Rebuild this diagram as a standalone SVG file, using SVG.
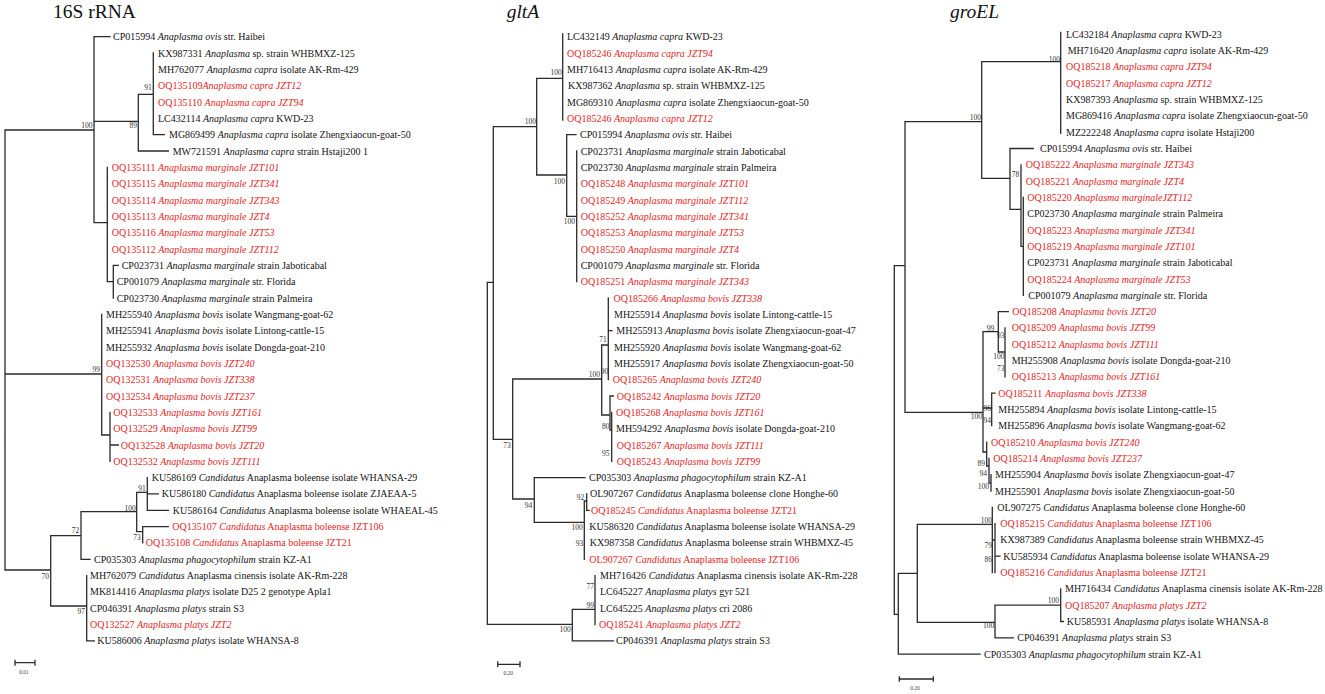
<svg xmlns="http://www.w3.org/2000/svg" width="1325" height="694" viewBox="0 0 1325 694">
<style>
.t{font-family:"Liberation Serif","Times New Roman",serif;font-size:10px;fill:#141414}
.r{fill:#e31e24}
.i{font-style:italic}
.b{font-family:"Liberation Serif","Times New Roman",serif;font-size:7.5px;fill:#333;text-anchor:end}
.bs{text-anchor:start}
.s{font-family:"Liberation Serif","Times New Roman",serif;font-size:5.5px;fill:#444;text-anchor:middle}
.h{font-family:"Liberation Serif","Times New Roman",serif;font-size:19.5px;fill:#111}
.e{fill:none;stroke:#2a2a2a;stroke-width:1.3;stroke-linecap:square}
</style>
<rect width="1325" height="694" fill="#fff"/>
<g id="titles">
<text class="h" x="53" y="18.3">16S rRNA</text>
<text class="h i" x="506.7" y="17.5">gltA</text>
<text class="h i" x="950" y="18.3">groEL</text>
</g>
<g id="connectors">
<path class="e" d="M5 130V570M5 130H94M5 374H101.7M5 570H50.7M94 36.7V222.7M94 36.7H110M94 121.3H138.3M94 222.7H107.3M138.3 94.3V151M138.3 94.3H153.3M138.3 151H168.3M153.3 53V134.7M153.3 134.7H164.3M107.3 167.3V281.7M107.3 281.7H113.3M113.3 265.3V298M113.3 265.3H118.3M101.7 314.3V435M101.7 435H110M110 412.3V461.3M110 445H118.3M50.7 535.7V606M50.7 535.7H81M50.7 606H86.7M81 511.7V559.3M81 559.3H90M81 511.7H136.7M136.7 492.3V531.7M136.7 492.3H147.3M136.7 531.7H142.7M147.3 477.6V510.3M147.3 493.9H158.3M147.3 510.3H168.3M142.7 526.6V542.9M142.7 526.6H168.3M86.7 575.6V640.9M86.7 640.9H94.3"/>
<path class="e" d="M487.3 282.3V624.3M487.3 282.3H493.3M487.3 624.3H572.3M493.3 126.7V439.3M493.3 126.7H536.7M493.3 439.3H512.7M536.7 78.3V175M536.7 78.3H562.7M536.7 175H566.7M562.7 34V120M566.7 134.7V216.3M566.7 134.7H576M566.7 216.3H576.7M576.7 151V281.7M512.7 379V499M512.7 379H601.7M512.7 499H534.3M601.7 345V415M601.7 345H608.3M608.3 298V379.6M608.3 330.6H612M601.7 415H610M610 396V430M610 396H613.3M610 430H611.7M611.7 412.3V461.3M534.3 477.6V522.3M534.3 477.6H585M534.3 522.3H584.3M584.3 501V559.3M584.3 501H586.7M586.7 494V510.3M586.7 510.3H589M572.3 609.3V640.9M572.3 609.3H595M572.3 640.9H613.3M595 575.6V624.6"/>
<path class="e" d="M894.3 265.7V614.3M894.3 265.7H905M894.3 614.3H898.3M905 121.7V412.3M905 121.7H981.7M905 412.3H983M981.7 61.7V178.3M981.7 61.7H1060.7M981.7 178.3H1010M1060.7 32.3V133.3M1010 148.5V209.3M1010 148.5H1033.3M1010 209.3H1021M1021 164.8V246.3M1021 246.3H1023.3M1023.3 197.4V295.3M983 331.7V452M983 331.7H998.3M998.3 311.6V352M998.3 311.6H1008.3M998.3 352H1005M1005 327.9V376.8M983 408H991.7M991.7 393.1V425.7M991.7 393.1H995M983 452H986.7M986.7 442.1V466M986.7 466H989M989 458.4V483M989 483H991M991 474.7V491M898.3 573.3V654.1M898.3 654.1H980M898.3 573.3H917.3M917.3 524.3V622.3M917.3 524.3H992.3M917.3 622.3H995M992.3 507.3V572.5M992.3 540H995M995 523.6V572.5M995 556.2H1000M995 605.1V637.8M995 605.1H1060.7M995 637.8H1013.3M1060.7 588.8V621.5M1060.7 621.5H1063.3"/>
<path class="e" d="M15 660.5V665M15 662.7H35M35 660.5V665M497.7 662V666.5M497.7 664.3H520M520 662V666.5M899.3 677V681M899.3 679H933.3M933.3 677V681" stroke-width="1"/>
</g>
<g id="scales">
<text class="s" x="24" y="673.5">0.01</text>
<text class="s" x="508.3" y="675">0.20</text>
<text class="s" x="915" y="690">0.20</text>
</g>
<g id="bootstrap">
<text class="b" x="92.5" y="127.7">100</text>
<text class="b" x="137" y="128.4">89</text>
<text class="b" x="151.7" y="90">91</text>
<text class="b" x="100" y="372">99</text>
<text class="b" x="79.3" y="533.4">72</text>
<text class="b" x="49" y="578.7">70</text>
<text class="b" x="135.7" y="511">100</text>
<text class="b" x="145.7" y="491">91</text>
<text class="b" x="140.7" y="540.4">73</text>
<text class="b" x="85" y="614.4">97</text>
<text class="b" x="536" y="124.4">100</text>
<text class="b" x="561.7" y="75.4">100</text>
<text class="b" x="565" y="183.7">100</text>
<text class="b" x="575" y="223.7">100</text>
<text class="b" x="510.7" y="447.7">73</text>
<text class="b" x="600" y="376.7">100</text>
<text class="b bs" x="600.7" y="374.4">90</text>
<text class="b" x="606.7" y="341.7">71</text>
<text class="b" x="609.5" y="429.4">80</text>
<text class="b" x="609.5" y="456">95</text>
<text class="b" x="532.3" y="507.7">94</text>
<text class="b" x="582.7" y="530.4">100</text>
<text class="b" x="584.3" y="500.4">92</text>
<text class="b" x="583.3" y="546">93</text>
<text class="b" x="594" y="608.4">99</text>
<text class="b" x="594" y="588.7">77</text>
<text class="b" x="570.7" y="631.7">100</text>
<text class="b" x="981" y="120">100</text>
<text class="b" x="1060" y="62">100</text>
<text class="b bs" x="1011.7" y="176.7">78</text>
<text class="b" x="982" y="419.2">100</text>
<text class="b" x="994.3" y="331">99</text>
<text class="b" x="1004.5" y="337.7">93</text>
<text class="b" x="1004.5" y="358.7">100</text>
<text class="b" x="1004.5" y="371">73</text>
<text class="b" x="991" y="411">96</text>
<text class="b" x="991" y="422.7">94</text>
<text class="b" x="985" y="466">89</text>
<text class="b" x="987" y="476">94</text>
<text class="b" x="989" y="489.4">100</text>
<text class="b" x="992" y="522.7">100</text>
<text class="b" x="992" y="547.7">79</text>
<text class="b" x="992" y="562">86</text>
<text class="b" x="994.3" y="628.4">100</text>
<text class="b" x="1059" y="603.4">100</text>
</g>
<g id="tree-16S">
<g id="a0"><text class="t" x="113" y="40.2">CP015994 <tspan class="i">Anaplasma ovis</tspan> str. Haibei</text></g>
<g id="a1"><text class="t" x="158" y="56.5">KX987331 <tspan class="i">Anaplasma</tspan> sp. strain WHBMXZ-125</text></g>
<g id="a2"><text class="t" x="158" y="72.9">MH762077 <tspan class="i">Anaplasma capra</tspan> isolate AK-Rm-429</text></g>
<g id="a3"><text class="t r" x="158" y="89.2">OQ135109<tspan class="i">Anaplasma capra JZT12</tspan></text></g>
<g id="a4"><text class="t r" x="158" y="105.5">OQ135110 <tspan class="i">Anaplasma capra JZT94</tspan></text></g>
<g id="a5"><text class="t" x="158" y="121.9">LC432114 <tspan class="i">Anaplasma capra</tspan> KWD-23</text></g>
<g id="a6"><text class="t" x="169" y="138.2">MG869499 <tspan class="i">Anaplasma capra</tspan> isolate Zhengxiaocun-goat-50</text></g>
<g id="a7"><text class="t" x="172.7" y="154.5">MW721591 <tspan class="i">Anaplasma capra</tspan> strain Hstaji200 1</text></g>
<g id="a8"><text class="t r" x="111.7" y="170.8">OQ135111 <tspan class="i">Anaplasma marginale JZT101</tspan></text></g>
<g id="a9"><text class="t r" x="111.7" y="187.2">OQ135115 <tspan class="i">Anaplasma marginale JZT341</tspan></text></g>
<g id="a10"><text class="t r" x="111.7" y="203.5">OQ135114 <tspan class="i">Anaplasma marginale JZT343</tspan></text></g>
<g id="a11"><text class="t r" x="111.7" y="219.8">OQ135113 <tspan class="i">Anaplasma marginale JZT4</tspan></text></g>
<g id="a12"><text class="t r" x="111.7" y="236.2">OQ135116 <tspan class="i">Anaplasma marginale JZT53</tspan></text></g>
<g id="a13"><text class="t r" x="111.7" y="252.5">OQ135112 <tspan class="i">Anaplasma marginale JZT112</tspan></text></g>
<g id="a14"><text class="t" x="121.7" y="268.8">CP023731 <tspan class="i">Anaplasma marginale</tspan> strain Jaboticabal</text></g>
<g id="a15"><text class="t" x="116.7" y="285.2">CP001079 <tspan class="i">Anaplasma marginale</tspan> str. Florida</text></g>
<g id="a16"><text class="t" x="116.7" y="301.5">CP023730 <tspan class="i">Anaplasma marginale</tspan> strain Palmeira</text></g>
<g id="a17"><text class="t" x="106" y="317.8">MH255940 <tspan class="i">Anaplasma bovis</tspan> isolate Wangmang-goat-62</text></g>
<g id="a18"><text class="t" x="106" y="334.1">MH255941 <tspan class="i">Anaplasma bovis</tspan> isolate Lintong-cattle-15</text></g>
<g id="a19"><text class="t" x="106" y="350.5">MH255932 <tspan class="i">Anaplasma bovis</tspan> isolate Dongda-goat-210</text></g>
<g id="a20"><text class="t r" x="106" y="366.8">OQ132530 <tspan class="i">Anaplasma bovis JZT240</tspan></text></g>
<g id="a21"><text class="t r" x="106" y="383.1">OQ132531 <tspan class="i">Anaplasma bovis JZT338</tspan></text></g>
<g id="a22"><text class="t r" x="106" y="399.5">OQ132534 <tspan class="i">Anaplasma bovis JZT237</tspan></text></g>
<g id="a23"><text class="t r" x="113.3" y="415.8">OQ132533 <tspan class="i">Anaplasma bovis JZT161</tspan></text></g>
<g id="a24"><text class="t r" x="113.3" y="432.1">OQ132529 <tspan class="i">Anaplasma bovis JZT99</tspan></text></g>
<g id="a25"><text class="t r" x="120.7" y="448.5">OQ132528 <tspan class="i">Anaplasma bovis JZT20</tspan></text></g>
<g id="a26"><text class="t r" x="113.3" y="464.8">OQ132532 <tspan class="i">Anaplasma bovis JZT111</tspan></text></g>
<g id="a27"><text class="t" x="151.7" y="481.1">KU586169 <tspan class="i">Candidatus</tspan> Anaplasma boleense isolate WHANSA-29</text></g>
<g id="a28"><text class="t" x="161.7" y="497.4">KU586180 <tspan class="i">Candidatus</tspan> Anaplasma boleense isolate ZJAEAA-5</text></g>
<g id="a29"><text class="t" x="172.7" y="513.8">KU586164 <tspan class="i">Candidatus</tspan> Anaplasma boleense isolate WHAEAL-45</text></g>
<g id="a30"><text class="t r" x="172.3" y="530.1">OQ135107 <tspan class="i">Candidatus</tspan> Anaplasma boleense JZT106</text></g>
<g id="a31"><text class="t r" x="145.7" y="546.4">OQ135108 <tspan class="i">Candidatus</tspan> Anaplasma boleense JZT21</text></g>
<g id="a32"><text class="t" x="94" y="562.8">CP035303 <tspan class="i">Anaplasma phagocytophilum</tspan> strain KZ-A1</text></g>
<g id="a33"><text class="t" x="90" y="579.1">MH762079 <tspan class="i">Candidatus</tspan> Anaplasma cinensis isolate AK-Rm-228</text></g>
<g id="a34"><text class="t" x="90" y="595.4">MK814416 <tspan class="i">Anaplasma platys</tspan> isolate D25 2 genotype Apla1</text></g>
<g id="a35"><text class="t" x="90" y="611.8">CP046391 <tspan class="i">Anaplasma platys</tspan> strain S3</text></g>
<g id="a36"><text class="t r" x="90" y="628.1">OQ132527 <tspan class="i">Anaplasma platys JZT2</tspan></text></g>
<g id="a37"><text class="t" x="97.3" y="644.4">KU586006 <tspan class="i">Anaplasma platys</tspan> isolate WHANSA-8</text></g>
</g>
<g id="tree-gltA">
<g id="b0"><text class="t" x="567" y="40.2">LC432149 <tspan class="i">Anaplasma capra</tspan> KWD-23</text></g>
<g id="b1"><text class="t r" x="567" y="56.5">OQ185246 <tspan class="i">Anaplasma capra JZT94</tspan></text></g>
<g id="b2"><text class="t" x="567" y="72.9">MH716413 <tspan class="i">Anaplasma capra</tspan> isolate AK-Rm-429</text></g>
<g id="b3"><text class="t" x="568" y="89.2">KX987362 <tspan class="i">Anaplasma</tspan> sp. strain WHBMXZ-125</text></g>
<g id="b4"><text class="t" x="567" y="105.5">MG869310 <tspan class="i">Anaplasma capra</tspan> isolate Zhengxiaocun-goat-50</text></g>
<g id="b5"><text class="t r" x="567" y="121.9">OQ185246 <tspan class="i">Anaplasma capra JZT12</tspan></text></g>
<g id="b6"><text class="t" x="580" y="138.2">CP015994 <tspan class="i">Anaplasma ovis</tspan> str. Haibei</text></g>
<g id="b7"><text class="t" x="580.7" y="154.5">CP023731 <tspan class="i">Anaplasma marginale</tspan> strain Jaboticabal</text></g>
<g id="b8"><text class="t" x="580.7" y="170.8">CP023730 <tspan class="i">Anaplasma marginale</tspan> strain Palmeira</text></g>
<g id="b9"><text class="t r" x="580.7" y="187.2">OQ185248 <tspan class="i">Anaplasma marginale JZT101</tspan></text></g>
<g id="b10"><text class="t r" x="580.7" y="203.5">OQ185249 <tspan class="i">Anaplasma marginale JZT112</tspan></text></g>
<g id="b11"><text class="t r" x="580.7" y="219.8">OQ185252 <tspan class="i">Anaplasma marginale JZT341</tspan></text></g>
<g id="b12"><text class="t r" x="580.7" y="236.2">OQ185253 <tspan class="i">Anaplasma marginale JZT53</tspan></text></g>
<g id="b13"><text class="t r" x="580.7" y="252.5">OQ185250 <tspan class="i">Anaplasma marginale JZT4</tspan></text></g>
<g id="b14"><text class="t" x="580.7" y="268.8">CP001079 <tspan class="i">Anaplasma marginale</tspan> str. Florida</text></g>
<g id="b15"><text class="t r" x="580.7" y="285.2">OQ185251 <tspan class="i">Anaplasma marginale JZT343</tspan></text></g>
<g id="b16"><text class="t r" x="613.5" y="301.5">OQ185266 <tspan class="i">Anaplasma bovis JZT338</tspan></text></g>
<g id="b17"><text class="t" x="614" y="317.8">MH255914 <tspan class="i">Anaplasma bovis</tspan> isolate Lintong-cattle-15</text></g>
<g id="b18"><text class="t" x="616.3" y="334.1">MH255913 <tspan class="i">Anaplasma bovis</tspan> isolate Zhengxiaocun-goat-47</text></g>
<g id="b19"><text class="t" x="614" y="350.5">MH255920 <tspan class="i">Anaplasma bovis</tspan> isolate Wangmang-goat-62</text></g>
<g id="b20"><text class="t" x="614" y="366.8">MH255917 <tspan class="i">Anaplasma bovis</tspan> isolate Zhengxiaocun-goat-50</text></g>
<g id="b21"><text class="t r" x="612.7" y="383.1">OQ185265 <tspan class="i">Anaplasma bovis JZT240</tspan></text></g>
<g id="b22"><text class="t r" x="616.7" y="399.5">OQ185242 <tspan class="i">Anaplasma bovis JZT20</tspan></text></g>
<g id="b23"><text class="t r" x="616" y="415.8">OQ185268 <tspan class="i">Anaplasma bovis JZT161</tspan></text></g>
<g id="b24"><text class="t" x="616" y="432.1">MH594292 <tspan class="i">Anaplasma bovis</tspan> isolate Dongda-goat-210</text></g>
<g id="b25"><text class="t r" x="616.7" y="448.5">OQ185267 <tspan class="i">Anaplasma bovis JZT111</tspan></text></g>
<g id="b26"><text class="t r" x="616.7" y="464.8">OQ185243 <tspan class="i">Anaplasma bovis JZT99</tspan></text></g>
<g id="b27"><text class="t" x="589" y="481.1">CP035303 <tspan class="i">Anaplasma phagocytophilum</tspan> strain KZ-A1</text></g>
<g id="b28"><text class="t" x="590" y="497.4">OL907267 <tspan class="i">Candidatus</tspan> Anaplasma boleense clone Honghe-60</text></g>
<g id="b29"><text class="t r" x="591" y="513.8">OQ185245 <tspan class="i">Candidatus</tspan> Anaplasma boleense JZT21</text></g>
<g id="b30"><text class="t" x="589.3" y="530.1">KU586320 <tspan class="i">Candidatus</tspan> Anaplasma boleense isolate WHANSA-29</text></g>
<g id="b31"><text class="t" x="589.7" y="546.4">KX987358 <tspan class="i">Candidatus</tspan> Anaplasma boleense strain WHBMXZ-45</text></g>
<g id="b32"><text class="t r" x="589.3" y="562.8">OL907267 <tspan class="i">Candidatus</tspan> Anaplasma boleense JZT106</text></g>
<g id="b33"><text class="t" x="600" y="579.1">MH716426 <tspan class="i">Candidatus</tspan> Anaplasma cinensis isolate AK-Rm-228</text></g>
<g id="b34"><text class="t" x="600" y="595.4">LC645227 <tspan class="i">Anaplasma platys</tspan> gyr 521</text></g>
<g id="b35"><text class="t" x="600" y="611.8">LC645225 <tspan class="i">Anaplasma platys</tspan> cri 2086</text></g>
<g id="b36"><text class="t r" x="599" y="628.1">OQ185241 <tspan class="i">Anaplasma platys JZT2</tspan></text></g>
<g id="b37"><text class="t" x="616" y="644.4">CP046391 <tspan class="i">Anaplasma platys</tspan> strain S3</text></g>
</g>
<g id="tree-groEL">
<g id="c0"><text class="t" x="1066" y="37.8">LC432184 <tspan class="i">Anaplasma capra</tspan> KWD-23</text></g>
<g id="c1"><text class="t" x="1067.7" y="54.1">MH716420 <tspan class="i">Anaplasma capra</tspan> isolate AK-Rm-429</text></g>
<g id="c2"><text class="t r" x="1066" y="70.4">OQ185218 <tspan class="i">Anaplasma capra JZT94</tspan></text></g>
<g id="c3"><text class="t r" x="1066" y="86.7">OQ185217 <tspan class="i">Anaplasma capra JZT12</tspan></text></g>
<g id="c4"><text class="t" x="1066" y="103">KX987393 <tspan class="i">Anaplasma</tspan> sp. strain WHBMXZ-125</text></g>
<g id="c5"><text class="t" x="1066" y="119.4">MG869416 <tspan class="i">Anaplasma capra</tspan> isolate Zhengxiaocun-goat-50</text></g>
<g id="c6"><text class="t" x="1066" y="135.7">MZ222248 <tspan class="i">Anaplasma capra</tspan> isolate Hstaji200</text></g>
<g id="c7"><text class="t" x="1040" y="152">CP015994 <tspan class="i">Anaplasma ovis</tspan> str. Haibei</text></g>
<g id="c8"><text class="t r" x="1025.7" y="168.3">OQ185222 <tspan class="i">Anaplasma marginale JZT343</tspan></text></g>
<g id="c9"><text class="t r" x="1025.7" y="184.6">OQ185221 <tspan class="i">Anaplasma marginale JZT4</tspan></text></g>
<g id="c10"><text class="t r" x="1027.3" y="200.9">OQ185220 <tspan class="i">Anaplasma marginaleJZT112</tspan></text></g>
<g id="c11"><text class="t" x="1027.3" y="217.2">CP023730 <tspan class="i">Anaplasma marginale</tspan> strain Palmeira</text></g>
<g id="c12"><text class="t r" x="1027.3" y="233.5">OQ185223 <tspan class="i">Anaplasma marginale JZT341</tspan></text></g>
<g id="c13"><text class="t r" x="1027.3" y="249.8">OQ185219 <tspan class="i">Anaplasma marginale JZT101</tspan></text></g>
<g id="c14"><text class="t" x="1027.3" y="266.1">CP023731 <tspan class="i">Anaplasma marginale</tspan> strain Jaboticabal</text></g>
<g id="c15"><text class="t r" x="1027.3" y="282.5">OQ185224 <tspan class="i">Anaplasma marginale JZT53</tspan></text></g>
<g id="c16"><text class="t" x="1028.3" y="298.8">CP001079 <tspan class="i">Anaplasma marginale</tspan> str. Florida</text></g>
<g id="c17"><text class="t r" x="1012.3" y="315.1">OQ185208 <tspan class="i">Anaplasma bovis JZT20</tspan></text></g>
<g id="c18"><text class="t r" x="1011.7" y="331.4">OQ185209 <tspan class="i">Anaplasma bovis JZT99</tspan></text></g>
<g id="c19"><text class="t r" x="1011.7" y="347.7">OQ185212 <tspan class="i">Anaplasma bovis JZT111</tspan></text></g>
<g id="c20"><text class="t" x="1011.7" y="364">MH255908 <tspan class="i">Anaplasma bovis</tspan> isolate Dongda-goat-210</text></g>
<g id="c21"><text class="t r" x="1011.7" y="380.3">OQ185213 <tspan class="i">Anaplasma bovis JZT161</tspan></text></g>
<g id="c22"><text class="t r" x="998.3" y="396.6">OQ185211 <tspan class="i">Anaplasma bovis JZT338</tspan></text></g>
<g id="c23"><text class="t" x="998.3" y="412.9">MH255894 <tspan class="i">Anaplasma bovis</tspan> isolate Lintong-cattle-15</text></g>
<g id="c24"><text class="t" x="998.3" y="429.2">MH255896 <tspan class="i">Anaplasma bovis</tspan> isolate Wangmang-goat-62</text></g>
<g id="c25"><text class="t r" x="991" y="445.6">OQ185210 <tspan class="i">Anaplasma bovis JZT240</tspan></text></g>
<g id="c26"><text class="t r" x="993.3" y="461.9">OQ185214 <tspan class="i">Anaplasma bovis JZT237</tspan></text></g>
<g id="c27"><text class="t" x="995" y="478.2">MH255904 <tspan class="i">Anaplasma bovis</tspan> isolate Zhengxiaocun-goat-47</text></g>
<g id="c28"><text class="t" x="995" y="494.5">MH255901 <tspan class="i">Anaplasma bovis</tspan> isolate Zhengxiaocun-goat-50</text></g>
<g id="c29"><text class="t" x="997.3" y="510.8">OL907275 <tspan class="i">Candidatus</tspan> Anaplasma boleense clone Honghe-60</text></g>
<g id="c30"><text class="t r" x="1000.3" y="527.1">OQ185215 <tspan class="i">Candidatus</tspan> Anaplasma boleense JZT106</text></g>
<g id="c31"><text class="t" x="1000.3" y="543.4">KX987389 <tspan class="i">Candidatus</tspan> Anaplasma boleense strain WHBMXZ-45</text></g>
<g id="c32"><text class="t" x="1003.3" y="559.7">KU585934 <tspan class="i">Candidatus</tspan> Anaplasma boleense isolate WHANSA-29</text></g>
<g id="c33"><text class="t r" x="1000.3" y="576">OQ185216 <tspan class="i">Candidatus</tspan> Anaplasma boleense JZT21</text></g>
<g id="c34"><text class="t" x="1065" y="592.3">MH716434 <tspan class="i">Candidatus</tspan> Anaplasma cinensis isolate AK-Rm-228</text></g>
<g id="c35"><text class="t r" x="1065" y="608.6">OQ185207 <tspan class="i">Anaplasma platys JZT2</tspan></text></g>
<g id="c36"><text class="t" x="1066.7" y="625">KU585931 <tspan class="i">Anaplasma platys</tspan> isolate WHANSA-8</text></g>
<g id="c37"><text class="t" x="1017.3" y="641.3">CP046391 <tspan class="i">Anaplasma platys</tspan> strain S3</text></g>
<g id="c38"><text class="t" x="984" y="657.6">CP035303 <tspan class="i">Anaplasma phagocytophilum</tspan> strain KZ-A1</text></g>
</g>
</svg>
